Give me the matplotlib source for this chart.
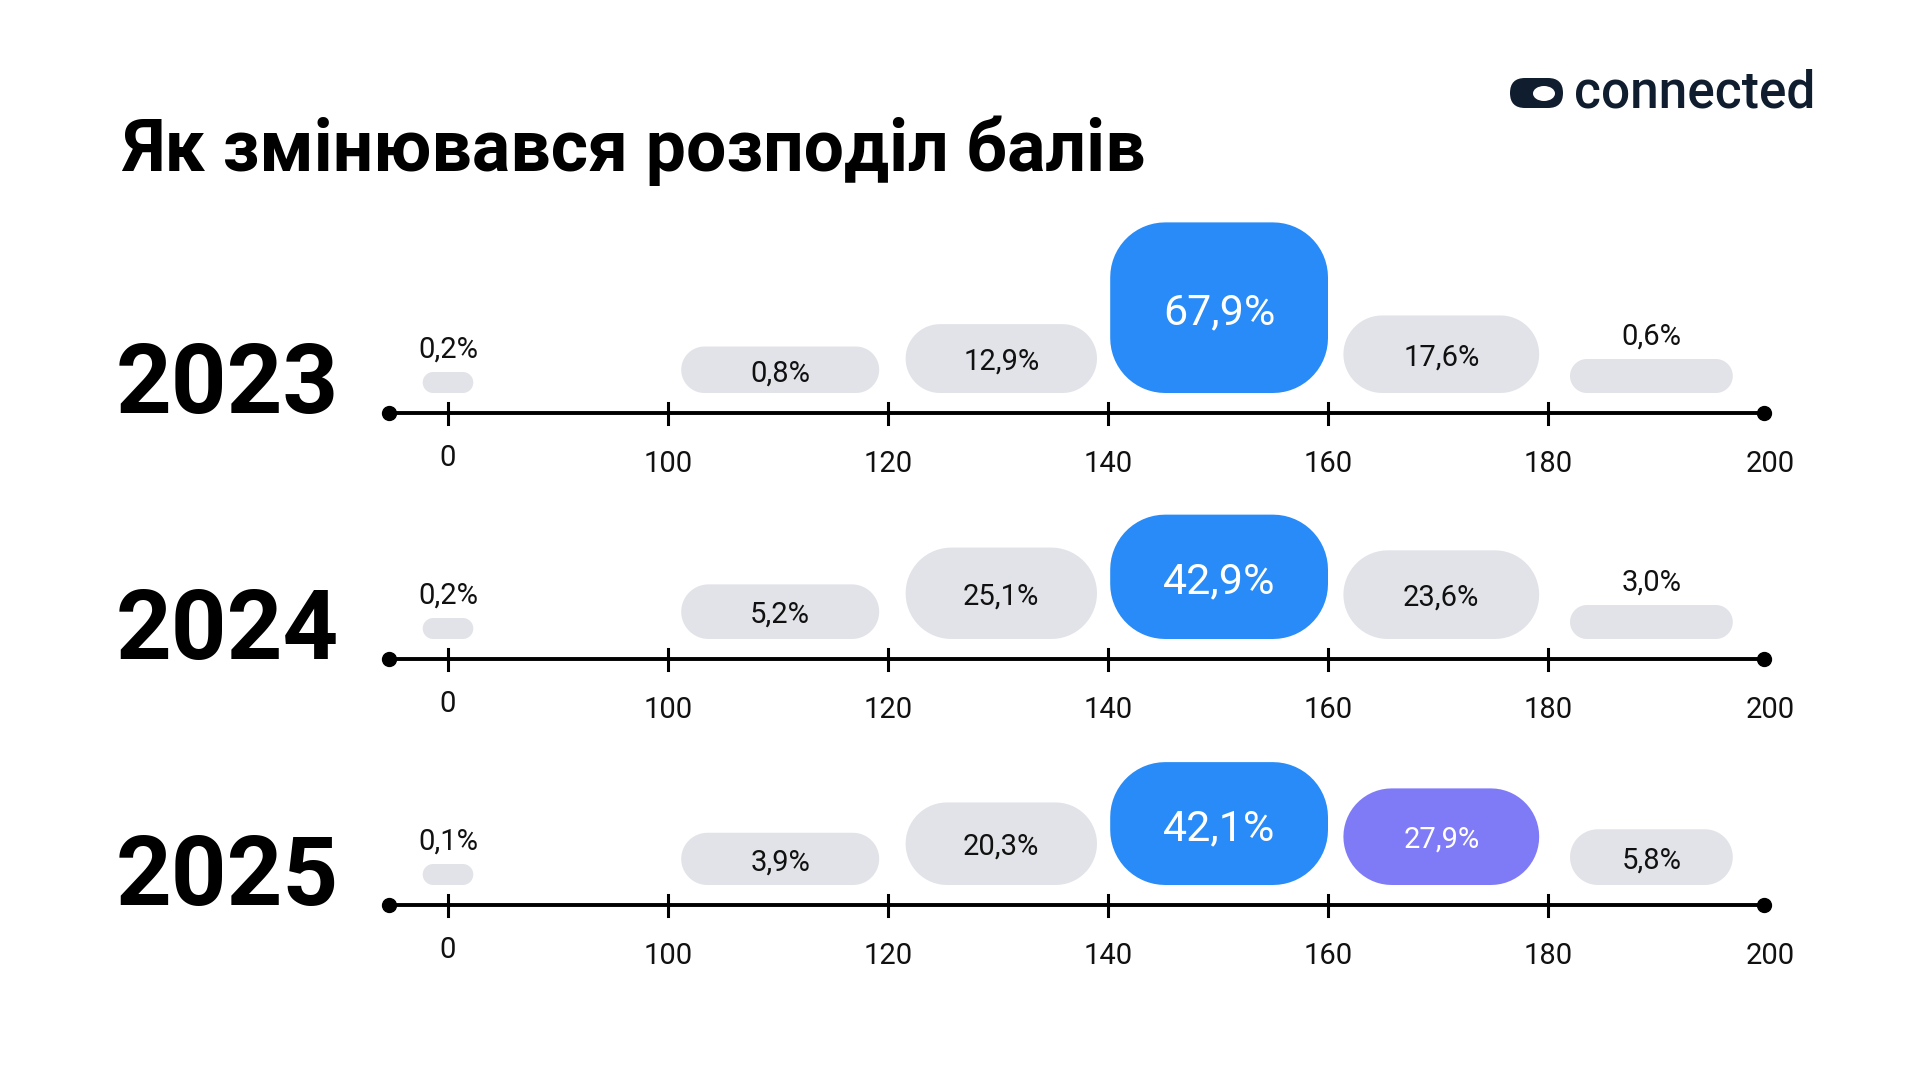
import matplotlib
matplotlib.use('Agg')
import numpy as np
import matplotlib.pyplot as plt
import matplotlib.transforms as mtransforms
from matplotlib.patches import FancyBboxPatch, Ellipse, Polygon

plt.rcParams['font.family'] = ['Roboto', 'DejaVu Sans']

title = 'Як змінювався розподіл балів'
years = ['2023', '2024', '2025']
tick_labels = ['0', '100', '120', '140', '160', '180', '200']
shares_2023 = [0.2, 0.8, 12.9, 67.9, 17.6, 0.6]
shares_2024 = [0.2, 5.2, 25.1, 42.9, 23.6, 3.0]
shares_2025 = [0.1, 3.9, 20.3, 42.1, 27.9, 5.8]
rows = [shares_2023, shares_2024, shares_2025]
accent = {'2025': 4}   # extra highlighted bin

GREY = '#E2E3E8'
BLUE = '#288BF7'
PURPLE = '#7F7BF7'
INK = '#111111'
NAVY = '#0F1D2E'

W, H = 1920, 1080
fig = plt.figure(figsize=(19.2, 10.8), dpi=100)
fig.patch.set_facecolor('white')

axis_y = [413, 659, 905]   # px from top
spans = [(-0.115, 0.115), (1.06, 1.96), (2.08, 2.95), (3.01, 4.0), (4.07, 4.96), (5.10, 5.84)]
PX = 220   # px per column unit (y axis is 1 px per unit)


def fmt(v):
    return f'{v:.1f}'.replace('.', ',') + '%'


def rounded_box(ax, x0, x1, y0, h, r, color):
    # rounded rectangle with true circular corners, x in column units, y in px
    rx = r / PX
    t = np.linspace(0, np.pi / 2, 16)
    pts = []
    for (cx, cy, a0) in [(x1 - rx, y0 + r, -np.pi / 2), (x1 - rx, y0 + h - r, 0),
                         (x0 + rx, y0 + h - r, np.pi / 2), (x0 + rx, y0 + r, np.pi)]:
        a = a0 + t
        pts += list(zip(cx + rx * np.cos(a), cy + r * np.sin(a)))
    ax.add_patch(Polygon(pts, closed=True, fc=color, ec='none', zorder=1))


for year, shares, ay in zip(years, rows, axis_y):
    ax = fig.add_axes([338 / W, 1 - (ay + 70) / H, 1540 / W, 270 / H])
    ax.set_xlim(-0.5, 6.5)
    ax.set_ylim(-70, 200)
    ax.axis('off')

    ax.plot([-0.27, 5.98], [0, 0], color='black', lw=2.8, solid_capstyle='butt', zorder=2)
    ax.plot([-0.27, 5.98], [0, 0], 'o', color='black', ms=10, zorder=3)
    for i, lab in enumerate(tick_labels):
        if i < 6:
            ax.plot([i, i], [-11, 10], color='black', lw=2.2, zorder=2)
        ax.text(i + (0.01 if i == 6 else 0), -45 if i == 0 else -51, lab,
                ha='center', va='center', fontsize=21, color=INK)

    top = max(shares)
    for i, v in enumerate(shares):
        x0, x1 = spans[i]
        outside = i == 0 or (i == 5 and v < 5)
        if outside:
            h = 21 if i == 0 else 34
        else:
            h = 45 + 1.85 * v
        r = min(h / 2, 55, (x1 - x0) * PX / 2)
        if v == top:
            col = BLUE
        elif accent.get(year) == i:
            col = PURPLE
        else:
            col = GREY
        rounded_box(ax, x0, x1, 20, h, r, col)
        cx = (x0 + x1) / 2
        if outside:
            ax.text(cx, 20 + h + 14, fmt(v), ha='center', va='baseline',
                    fontsize=21, color=INK)
        else:
            big = col == BLUE
            fs = 31 if big else 21
            ax.text(cx, 20 + h / 2 - fs * 100 / 72 * 0.711 / 2 - 1, fmt(v),
                    ha='center', va='baseline', fontsize=fs,
                    color='white' if col != GREY else INK)

    tr = mtransforms.blended_transform_factory(fig.transFigure, ax.transData)
    ax.text(116 / W, 0, year, transform=tr, ha='left', va='baseline',
            fontsize=70, fontweight='bold', color='black')

# overlay in pixel coords for title and logo
ov = fig.add_axes([0, 0, 1, 1], zorder=-1)
ov.set_xlim(0, W)
ov.set_ylim(H, 0)
ov.axis('off')
ov.text(122, 171, title, ha='left', va='baseline', fontsize=51.5,
        fontweight='bold', color='black')
ov.add_patch(FancyBboxPatch((1510, 78), 53, 30, boxstyle='round,pad=0,rounding_size=15',
                            fc=NAVY, ec='none'))
ov.add_patch(Ellipse((1544, 93.5), 22, 15, fc='white', ec='none'))
ov.text(1574, 107, 'connected', ha='left', va='baseline', fontsize=37,
        fontweight='medium', color=NAVY)

fig.savefig('out.png', dpi=100, facecolor='white')
